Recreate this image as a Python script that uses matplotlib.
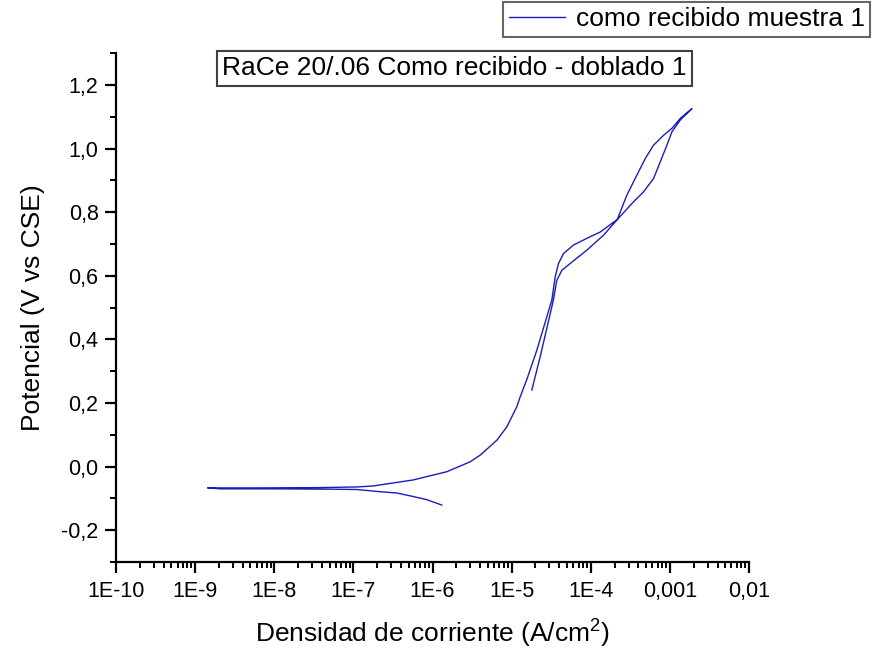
import numpy as np
import matplotlib
matplotlib.use("Agg")
import matplotlib.pyplot as plt
from matplotlib.ticker import FixedLocator, FixedFormatter, LogLocator, NullFormatter

plt.rcParams['font.family'] = ['Liberation Sans', 'DejaVu Sans']
plt.rcParams['mathtext.fontset'] = 'custom'
plt.rcParams['mathtext.rm'] = 'Liberation Sans'

# Polarization curve: cathodic branch, anodic sweep, then reverse sweep
corriente = [
    # cathodic branch (towards Ecorr)
    1.31e-6, 8.47e-7, 5.69e-7, 3.54e-7, 2.18e-7, 1.10e-7, 5.07e-8, 1.18e-8, 2.07e-9,
    # anodic sweep
    1.44e-9, 6.6e-9, 3.79e-8, 1.10e-7, 1.77e-7, 5.69e-7, 1.52e-6, 2.98e-6, 4.0e-6,
    6.5e-6, 8.69e-6, 1.16e-5, 1.28e-5, 1.56e-5, 2.08e-5, 3.22e-5, 3.55e-5, 3.91e-5,
    4.52e-5, 6.04e-5, 8.93e-5, 1.32e-4, 1.85e-4, 2.16e-4, 3.47e-4, 4.63e-4, 6.21e-4,
    7.53e-4, 9.16e-4, 1.06e-3, 1.35e-3, 1.64e-3, 1.90e-3,
    # reverse sweep
    1.35e-3, 1.06e-3, 8.30e-4, 6.21e-4, 4.88e-4, 4.22e-4, 3.47e-4, 2.86e-4, 2.16e-4,
    1.45e-4, 8.93e-5, 5.50e-5, 4.32e-5, 3.72e-5, 3.37e-5, 2.29e-5, 1.80e-5,
]
potencial = [
    -0.121, -0.104, -0.094, -0.083, -0.079, -0.072, -0.071, -0.070, -0.070,
    -0.067, -0.067, -0.066, -0.064, -0.061, -0.042, -0.016, 0.015, 0.036,
    0.083, 0.125, 0.188, 0.219, 0.275, 0.366, 0.524, 0.597, 0.639,
    0.670, 0.697, 0.718, 0.738, 0.765, 0.777, 0.833, 0.864, 0.906,
    0.958, 1.011, 1.053, 1.090, 1.111, 1.126,
    1.095, 1.064, 1.042, 1.011, 0.969, 0.938, 0.896, 0.854, 0.777,
    0.728, 0.681, 0.639, 0.618, 0.586, 0.524, 0.345, 0.241,
]

x_ticks = [1e-10, 1e-9, 1e-8, 1e-7, 1e-6, 1e-5, 1e-4, 1e-3, 1e-2]
x_labels = ['1E-10', '1E-9', '1E-8', '1E-7', '1E-6', '1E-5', '1E-4', '0,001', '0,01']
y_ticks = [-0.2, 0.0, 0.2, 0.4, 0.6, 0.8, 1.0, 1.2]
y_labels = ['-0,2', '0,0', '0,2', '0,4', '0,6', '0,8', '1,0', '1,2']

fig = plt.figure(figsize=(8.72, 6.5), dpi=100)
ax = fig.add_axes([0.133, 0.1354, 0.726, 0.7826])

line, = ax.plot(corriente, potencial, color='#1c1cb8', lw=1.0,
                label='como recibido muestra 1')

ax.set_xscale('log')
ax.set_xlim(1e-10, 1e-2)
ax.set_ylim(-0.3, 1.3)

ax.xaxis.set_major_locator(FixedLocator(x_ticks))
ax.xaxis.set_major_formatter(FixedFormatter(x_labels))
ax.xaxis.set_minor_locator(LogLocator(base=10, subs=np.arange(2, 10), numticks=20))
ax.xaxis.set_minor_formatter(NullFormatter())
ax.yaxis.set_major_locator(FixedLocator(y_ticks))
ax.yaxis.set_major_formatter(FixedFormatter(y_labels))
ax.yaxis.set_minor_locator(FixedLocator(np.arange(-0.3, 1.31, 0.2)))

for side in ('top', 'right'):
    ax.spines[side].set_visible(False)
for side in ('left', 'bottom'):
    ax.spines[side].set_linewidth(1.6)

ax.tick_params(which='major', direction='out', length=8, width=1.6,
               labelsize=15.5)
ax.tick_params(axis='y', which='major', pad=4.5)
ax.tick_params(axis='x', which='major', pad=6)
ax.tick_params(which='minor', direction='out', length=4.5, width=1.4)

ax.set_xlabel('Densidad de corriente (A/cm$^2$)', fontsize=19, labelpad=10)
ax.set_ylabel('Potencial (V vs CSE)', fontsize=19, labelpad=12)

fig.text(0.521, 0.895, 'RaCe 20/.06 Como recibido - doblado 1', fontsize=19,
         ha='center', va='center',
         bbox=dict(boxstyle='square,pad=0.2', fc='white', ec='#404040', lw=1.5))

leg = fig.legend(handles=[line], loc='upper right',
                 bbox_to_anchor=(0.998, 0.997), fontsize=19,
                 frameon=True, fancybox=False, borderpad=0.2,
                 handlelength=2.15, handletextpad=0.4, borderaxespad=0)
leg.get_frame().set_edgecolor('#404040')
leg.get_frame().set_linewidth(1.5)

fig.savefig('out.png', dpi=100)
